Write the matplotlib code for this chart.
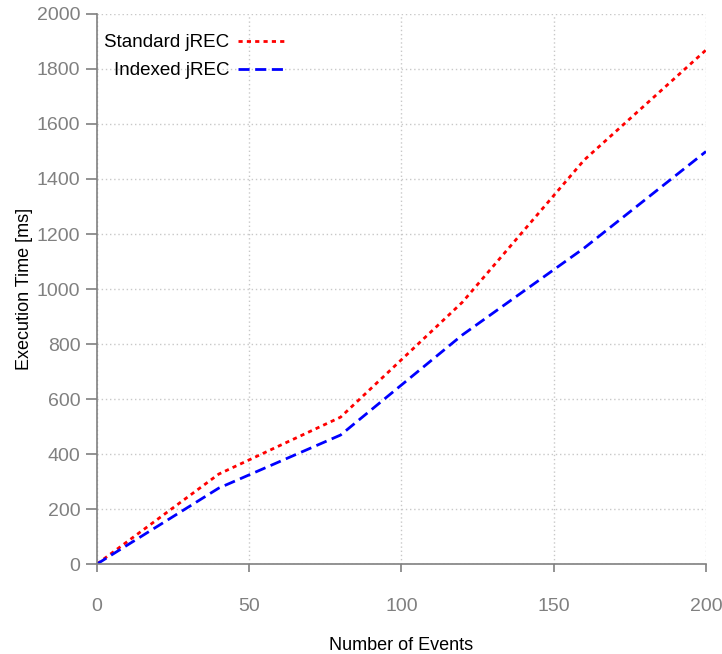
import matplotlib
matplotlib.use("Agg")
import matplotlib.pyplot as plt

plt.rcParams['font.family'] = ['Liberation Sans', 'DejaVu Sans']

events = [0, 40, 80, 120, 160, 200]
standard_ms = [0, 327, 534, 952, 1469, 1869]
indexed_ms = [0, 276, 469, 833, 1149, 1500]

x_ticks = [0, 50, 100, 150, 200]
y_ticks = list(range(0, 2001, 200))

fig = plt.figure(figsize=(7.22, 6.54), dpi=100)
ax = fig.add_axes([0.1343, 0.1376, 0.8435, 0.841])

ax.plot(events, standard_ms, color='#ff0000', lw=2, dashes=(1.5, 1.5),
        label='Standard jREC')
ax.plot(events, indexed_ms, color='#0000ff', lw=2, dashes=(4, 2),
        label='Indexed jREC')

ax.set_xlim(0, 200)
ax.set_ylim(0, 2000)
ax.set_xticks(x_ticks)
ax.set_yticks(y_ticks)
ax.grid(True, color='#c8c8c8', linestyle=(0, (1, 2)), lw=1)

for side in ['top', 'right']:
    ax.spines[side].set_visible(False)
for side in ['left', 'bottom']:
    ax.spines[side].set_color('#808080')
    ax.spines[side].set_linewidth(1.2)

ax.tick_params(axis='x', direction='out', length=6, width=1.2, color='#808080',
               labelcolor='#808080', labelsize=14, pad=18.5)
ax.tick_params(axis='y', direction='out', length=8, width=1.2, color='#808080',
               labelcolor='#808080', labelsize=14, pad=4)

ax.set_xlabel('Number of Events', fontsize=13, labelpad=16)
ax.set_ylabel('Execution Time [ms]', fontsize=13, labelpad=3)

leg = ax.legend(loc='upper left', frameon=False, markerfirst=False,
                fontsize=13.5, handlelength=2.7, handletextpad=0.45,
                bbox_to_anchor=(0.0115, 0.963), borderaxespad=0, borderpad=0,
                labelspacing=0.58)
for t in leg.get_texts():
    t.set_ha('right')

fig.savefig('out.png', dpi=100, facecolor='white')
